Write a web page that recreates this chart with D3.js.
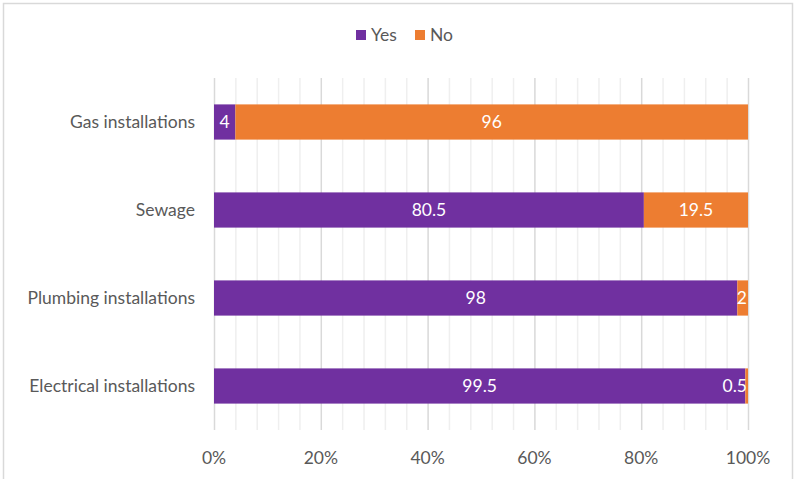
<!DOCTYPE html>
<html>
<head>
<meta charset="utf-8">
<script src="https://cdn.jsdelivr.net/npm/d3@7"></script>
<style>
  html, body { margin: 0; padding: 0; background: #fff; }
  svg { display: block; font-family: Lato, "Open Sans", sans-serif; }
</style>
</head>
<body>
<svg id="chart" width="794" height="479"></svg>
<script>
// Share of buildings with each installation (percent)
const categories = ["Gas installations", "Sewage", "Plumbing installations", "Electrical installations"];
const seriesNames = ["Yes", "No"];
const yesValues = [4, 80.5, 98, 99.5];
const noValues = [96, 19.5, 2, 0.5];
const tickValues = [0, 20, 40, 60, 80, 100];
const tickLabels = ["0%", "20%", "40%", "60%", "80%", "100%"];

const colors = { Yes: "#7030A0", No: "#ED7D31" };
const textColor = "#595959";
const fontSize = 17.5;

const svg = d3.select("#chart");
const W = 794, H = 479;

// chart frame
svg.append("path")
  .attr("d", `M3.5,${H} V3.5 H${W - 1.5} V${H}`)
  .attr("fill", "none")
  .attr("stroke", "#d9d9d9")
  .attr("stroke-width", 1.5);

const margin = { left: 214, right: 46, top: 78, bottom: 49 };
const x = d3.scaleLinear().domain([0, 100]).range([margin.left, W - margin.right]);
const y = d3.scaleBand().domain(categories).range([margin.top, H - margin.bottom]).paddingInner(0.6).paddingOuter(0.3);

const rows = categories.map((c, i) => ({ cat: c, Yes: yesValues[i], No: noValues[i] }));
const stacked = d3.stack().keys(seriesNames)(rows);

// minor gridlines
const g = svg.append("g");
g.selectAll("line.minor")
  .data(d3.range(0, 101, 4).filter(v => v % 20 !== 0))
  .join("line")
  .attr("x1", d => x(d) + 0.5).attr("x2", d => x(d) + 0.5)
  .attr("y1", margin.top).attr("y2", H - margin.bottom)
  .attr("stroke", "#efefef").attr("stroke-width", 1.5);

// major gridlines
g.selectAll("line.major")
  .data(tickValues)
  .join("line")
  .attr("x1", d => x(d) + 0.5).attr("x2", d => x(d) + 0.5)
  .attr("y1", margin.top).attr("y2", H - margin.bottom)
  .attr("stroke", "#d9d9d9").attr("stroke-width", 1.5);

// bars
const layers = svg.append("g").selectAll("g")
  .data(stacked)
  .join("g")
  .attr("fill", d => colors[d.key]);

layers.selectAll("rect")
  .data(d => d.map(p => ({ key: d.key, p })))
  .join("rect")
  .attr("x", d => x(d.p[0]))
  .attr("width", d => x(d.p[1]) - x(d.p[0]))
  .attr("y", d => y(d.p.data.cat))
  .attr("height", y.bandwidth());

// value labels
svg.append("g").selectAll("g")
  .data(stacked)
  .join("g")
  .selectAll("text")
  .data(d => d.map(p => ({ key: d.key, p })))
  .join("text")
  .attr("x", d => {
    const w = x(d.p[1]) - x(d.p[0]);
    if (w < 12) return x(d.p[1]) - 1;
    return (x(d.p[0]) + x(d.p[1])) / 2;
  })
  .attr("text-anchor", d => (x(d.p[1]) - x(d.p[0]) < 12 ? "end" : "middle"))
  .attr("y", d => y(d.p.data.cat) + y.bandwidth() / 2)
  .attr("dy", "0.36em")
  .attr("fill", "#fff")
  .attr("font-size", fontSize)
  .text(d => d.p[1] - d.p[0]);

// category axis labels
svg.append("g").selectAll("text")
  .data(categories)
  .join("text")
  .attr("x", 195)
  .attr("y", d => y(d) + y.bandwidth() / 2)
  .attr("dy", "0.36em")
  .attr("text-anchor", "end")
  .attr("fill", textColor)
  .attr("font-size", fontSize)
  .text(d => d);

// value axis labels
svg.append("g").selectAll("text")
  .data(tickValues)
  .join("text")
  .attr("x", d => x(d))
  .attr("y", 458)
  .attr("dy", "0.36em")
  .attr("text-anchor", "middle")
  .attr("fill", textColor)
  .attr("font-size", fontSize)
  .text((d, i) => tickLabels[i]);

// legend
const legend = svg.append("g");
const legendItems = [{ name: "Yes", x: 356 }, { name: "No", x: 415 }];
legendItems.forEach(it => {
  legend.append("rect").attr("x", it.x).attr("y", 30).attr("width", 10).attr("height", 10).attr("fill", colors[it.name]);
  legend.append("text").attr("x", it.x + 15).attr("y", 35).attr("dy", "0.36em")
    .attr("fill", textColor).attr("font-size", fontSize).text(it.name);
});
</script>
</body>
</html>
